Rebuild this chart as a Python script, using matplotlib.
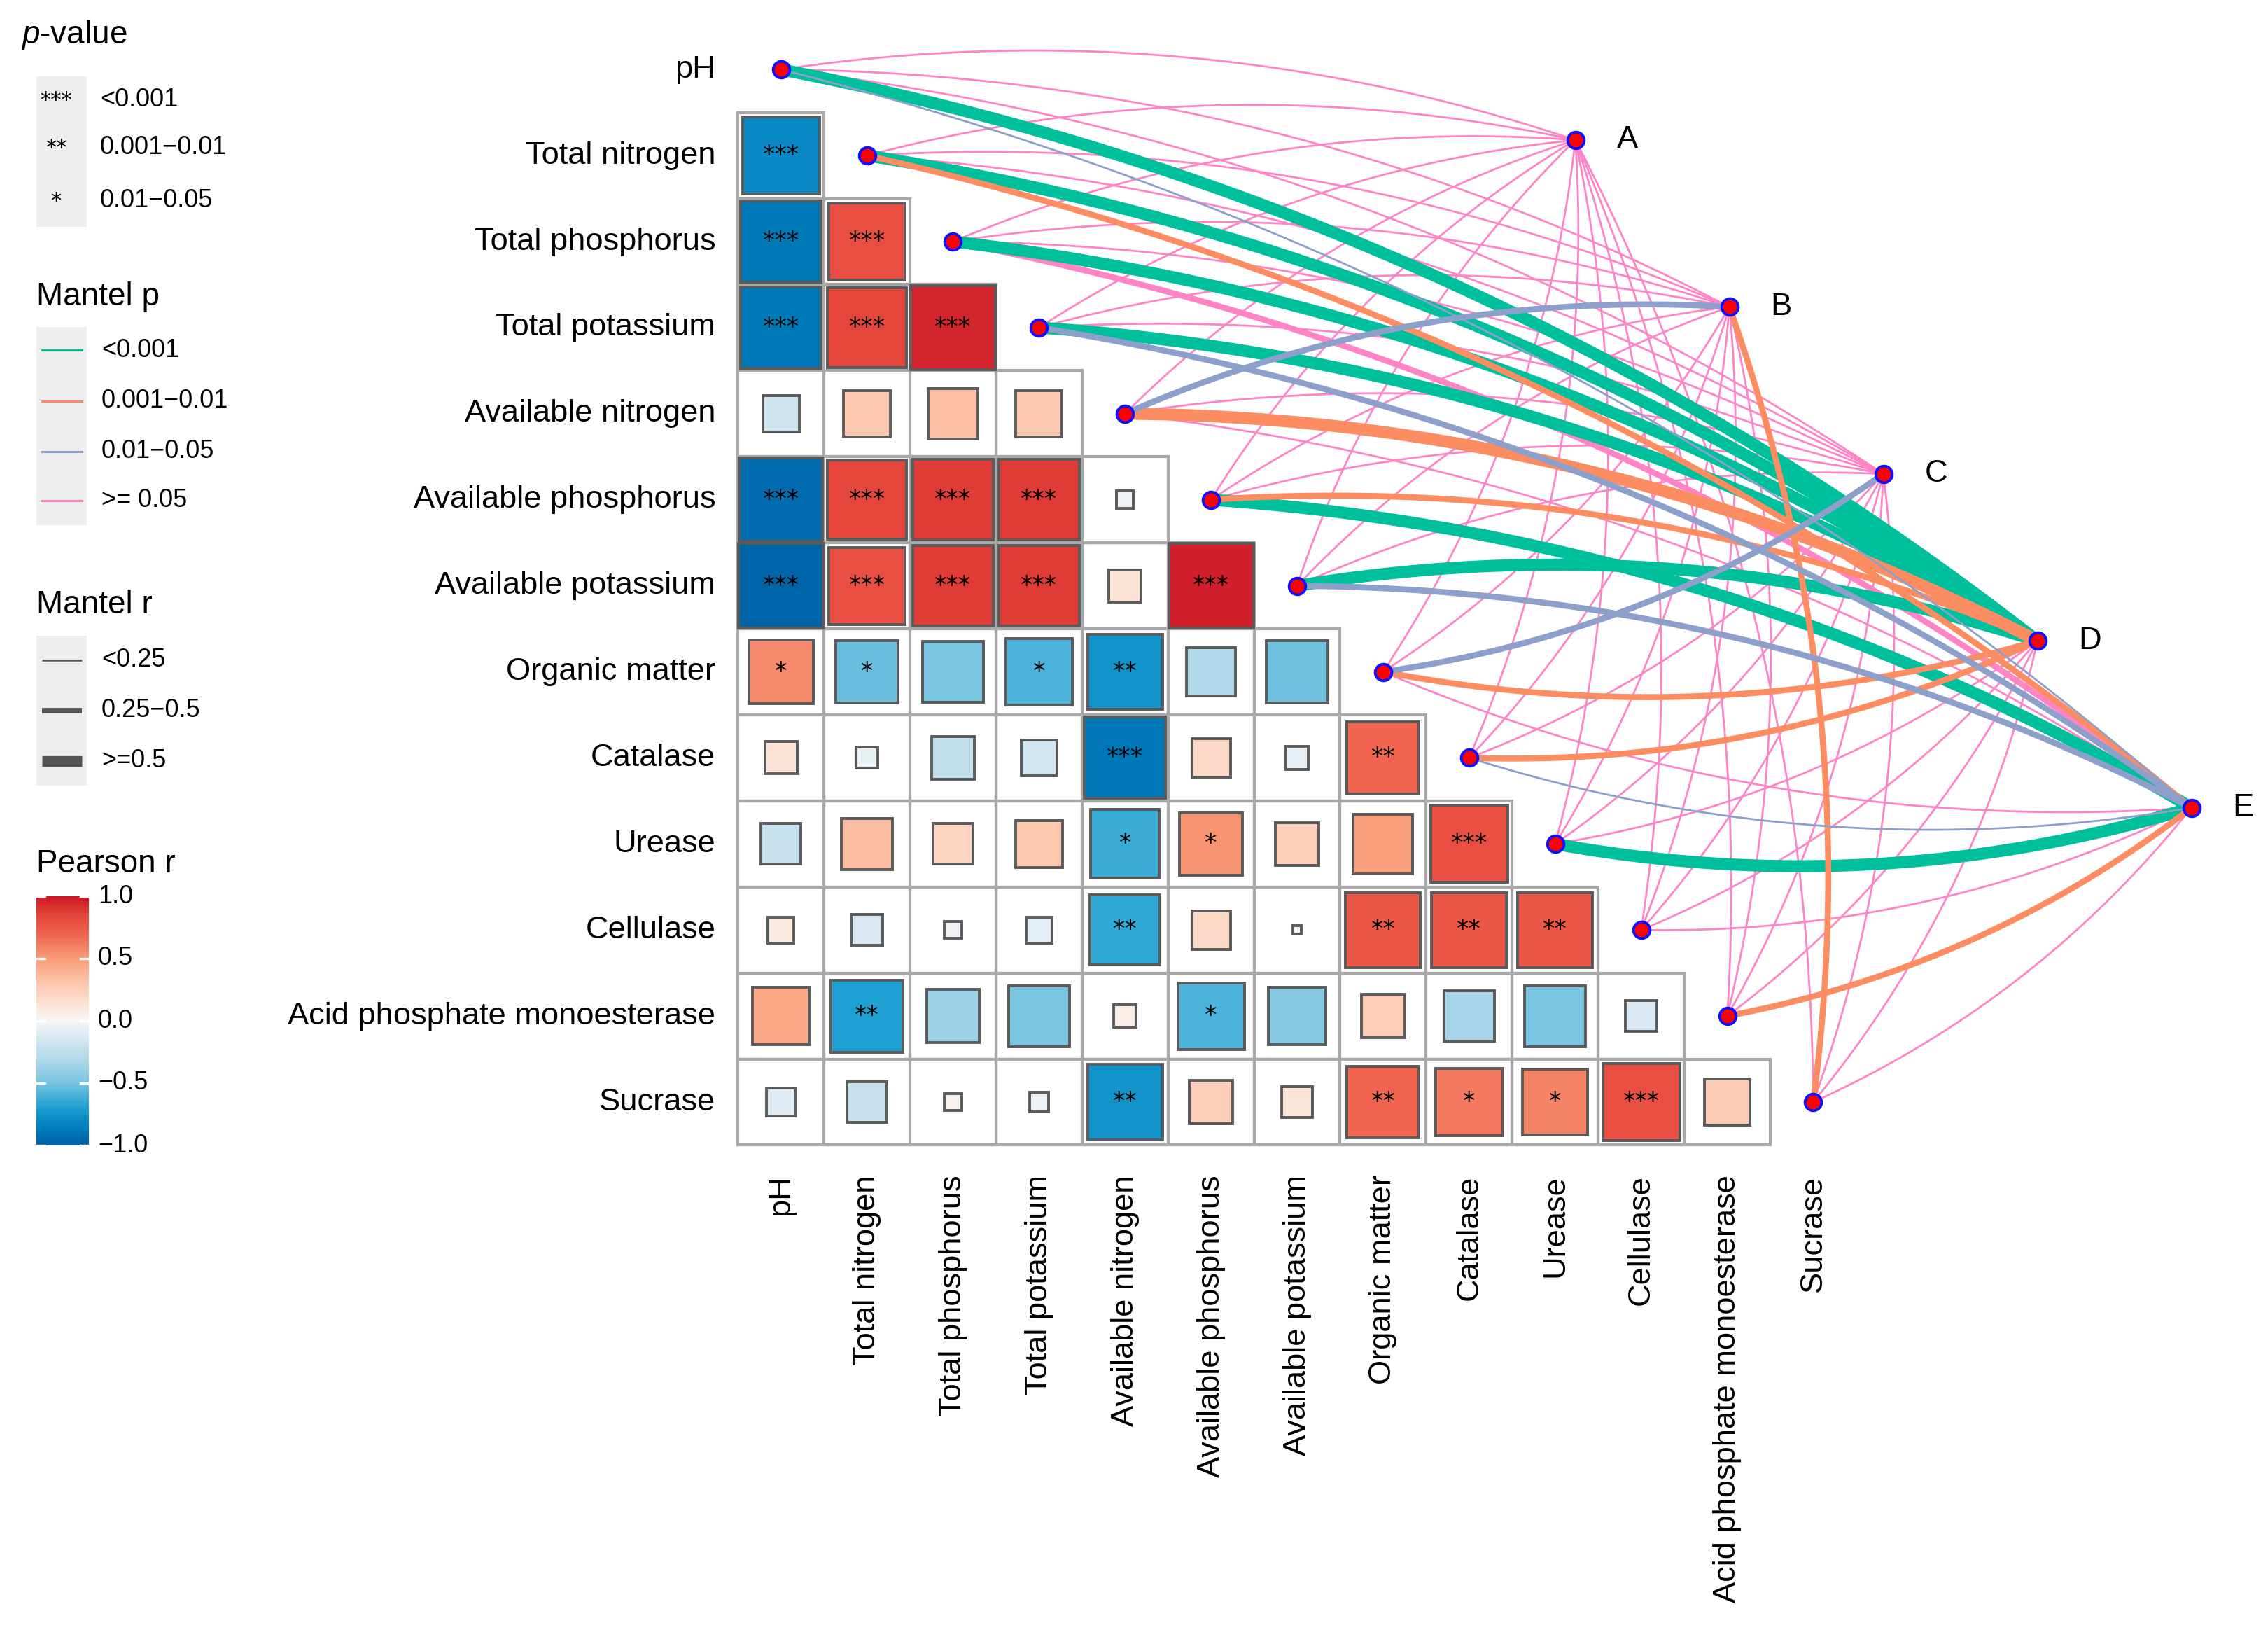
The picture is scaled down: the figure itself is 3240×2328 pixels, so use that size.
import numpy as np
import matplotlib.pyplot as plt
from matplotlib.colors import LinearSegmentedColormap, Normalize
from matplotlib.patches import Rectangle

plt.rcParams['font.family'] = ['Liberation Sans', 'DejaVu Sans']
plt.rcParams['mathtext.fontset'] = 'custom'
plt.rcParams['mathtext.rm'] = 'Liberation Sans'
plt.rcParams['mathtext.it'] = 'Liberation Sans:italic'

# ---- data ----
variables = ["pH", "Total nitrogen", "Total phosphorus", "Total potassium",
             "Available nitrogen", "Available phosphorus", "Available potassium",
             "Organic matter", "Catalase", "Urease", "Cellulase",
             "Acid phosphate monoesterase", "Sucrase"]

# lower triangle of the Pearson matrix, row i holds r with columns 0..i-1
pearson_r = [
    [],
    [-0.80],
    [-0.88, 0.80],
    [-0.88, 0.85, 0.96],
    [-0.18, 0.29, 0.34, 0.29],
    [-0.94, 0.85, 0.88, 0.88, -0.04],
    [-0.97, 0.80, 0.88, 0.88, 0.14, 0.97],
    [0.56, -0.53, -0.50, -0.60, -0.76, -0.32, -0.52],
    [0.14, -0.06, -0.25, -0.17, -0.89, 0.20, -0.07, 0.70],
    [-0.22, 0.35, 0.22, 0.30, -0.64, 0.53, 0.25, 0.48, 0.80],
    [0.09, -0.13, -0.04, -0.09, -0.66, 0.20, 0.01, 0.76, 0.76, 0.76],
    [0.44, -0.70, -0.38, -0.50, 0.07, -0.60, -0.44, 0.26, -0.34, -0.50, -0.13],
    [-0.11, -0.22, 0.04, -0.05, -0.76, 0.25, 0.13, 0.70, 0.61, 0.58, 0.80, 0.28],
]
pearson_sig = [
    [],
    ["***"],
    ["***", "***"],
    ["***", "***", "***"],
    ["", "", "", ""],
    ["***", "***", "***", "***", ""],
    ["***", "***", "***", "***", "", "***"],
    ["*", "*", "", "*", "**", "", ""],
    ["", "", "", "", "***", "", "", "**"],
    ["", "", "", "", "*", "*", "", "", "***"],
    ["", "", "", "", "**", "", "", "**", "**", "**"],
    ["", "**", "", "", "", "*", "", "", "", "", ""],
    ["", "", "", "", "**", "", "", "**", "*", "*", "***", ""],
]

envs = ["A", "B", "C", "D", "E"]
# Mantel p class: 0 <0.001, 1 0.001-0.01, 2 0.01-0.05, 3 >=0.05 (one list per env, over variables)
mantel_p = [
    [3, 3, 3, 3, 3, 3, 3, 3, 3, 3, 3, 3, 3],
    [3, 3, 3, 3, 2, 3, 3, 3, 3, 3, 3, 3, 1],
    [3, 3, 3, 3, 3, 3, 3, 2, 3, 3, 3, 3, 3],
    [0, 0, 0, 0, 1, 1, 0, 1, 1, 3, 3, 3, 3],
    [2, 1, 3, 2, 3, 0, 2, 3, 2, 0, 3, 1, 3],
]
# Mantel r class: 0 <0.25, 1 0.25-0.5, 2 >=0.5
mantel_r = [
    [0, 0, 0, 0, 0, 0, 0, 0, 0, 0, 0, 0, 0],
    [0, 0, 0, 0, 1, 0, 0, 0, 0, 0, 0, 0, 1],
    [0, 0, 0, 0, 0, 0, 0, 1, 0, 0, 0, 0, 0],
    [2, 2, 2, 2, 2, 1, 2, 1, 1, 0, 0, 0, 0],
    [0, 1, 1, 1, 0, 2, 1, 0, 0, 2, 0, 1, 0],
]

p_labels = ["<0.001", "0.001\u22120.01", "0.01\u22120.05", ">= 0.05"]
r_labels = ["<0.25", "0.25\u22120.5", ">=0.5"]
sig_labels = ["<0.001", "0.001\u22120.01", "0.01\u22120.05"]
cbar_ticks = [1.0, 0.5, 0.0, -0.5, -1.0]

# ---- styles ----
p_colors = ["#00BF9C", "#FC8D62", "#8DA0CB", "#FF84C6"]
r_widths = [1.0, 3.1, 6.2]
cmap = LinearSegmentedColormap.from_list("pearson", [
    (0.000, (0 / 255, 95 / 255, 165 / 255)),
    (0.075, (0 / 255, 128 / 255, 190 / 255)),
    (0.150, (30 / 255, 160 / 255, 210 / 255)),
    (0.250, (120 / 255, 196 / 255, 224 / 255)),
    (0.350, (180 / 255, 218 / 255, 235 / 255)),
    (0.450, (225 / 255, 236 / 255, 244 / 255)),
    (0.500, (247 / 255, 247 / 255, 247 / 255)),
    (0.550, (252 / 255, 232 / 255, 222 / 255)),
    (0.650, (252 / 255, 200 / 255, 175 / 255)),
    (0.750, (249 / 255, 155 / 255, 120 / 255)),
    (0.850, (240 / 255, 100 / 255, 80 / 255)),
    (0.925, (228 / 255, 70 / 255, 60 / 255)),
    (1.000, (205 / 255, 25 / 255, 40 / 255)),
])
norm = Normalize(-1, 1)

W, H = 3240, 2328
CELL = 122.9          # pixels per matrix cell
X0, Y0 = 1115.6, 99.2  # pixel position of the pH node
env_start = np.array([9.235, 0.82])
env_step = np.array([1.79, 1.94])

fig = plt.figure(figsize=(W / 200, H / 200), dpi=200)

# legend axes in pixel units
lax = fig.add_axes([0, 0, 1, 1])
lax.set_xlim(0, W)
lax.set_ylim(H, 0)
lax.axis("off")

ax = fig.add_axes([0, 0, 1, 1])
ax.set_xlim(-X0 / CELL, (W - X0) / CELL)
ax.set_ylim((H - Y0) / CELL, -Y0 / CELL)
ax.axis("off")
ax.patch.set_alpha(0)

n = len(variables)
label_fs = 16.3

# ---- correlation matrix ----
for i in range(1, n):
    for j in range(i):
        ax.add_patch(Rectangle((j - 0.5, i - 0.5), 1, 1, fill=False,
                               edgecolor="#A8A8A8", lw=1.5, zorder=1))
        r = pearson_r[i][j]
        s = np.sqrt(abs(r))
        ax.add_patch(Rectangle((j - s / 2, i - s / 2), s, s,
                               facecolor=cmap(norm(r)), edgecolor="#5A5A5A",
                               lw=1.4, zorder=2))
        if pearson_sig[i][j]:
            ax.text(j, i, pearson_sig[i][j], ha="center", va="center",
                    fontsize=12.5, family="DejaVu Sans", zorder=3)

for i, name in enumerate(variables):
    ax.text(-0.76, i, name, ha="right", va="center", fontsize=label_fs)
    ax.text(i, 12.85, name, ha="center", va="top", rotation=90, fontsize=label_fs)

# ---- mantel links ----
def curve_points(p0, p1, left, k=0.12, num=80):
    d = p1 - p0
    perp = np.array([d[1], -d[0]]) if left else np.array([-d[1], d[0]])
    c = (p0 + p1) / 2 + k * perp
    t = np.linspace(0, 1, num)[:, None]
    return (1 - t) ** 2 * p0 + 2 * (1 - t) * t * c + t ** 2 * p1

env_pos = [env_start + k * env_step for k in range(len(envs))]
draw_order = [3, 0, 1, 2]
for rank, pc in enumerate(draw_order):
    for e in range(len(envs)):
        for v in range(n):
            if mantel_p[e][v] != pc:
                continue
            p0 = np.array([v, v], dtype=float)
            pts = curve_points(p0, env_pos[e], left=(v <= 6))
            ax.plot(pts[:, 0], pts[:, 1], color=p_colors[pc],
                    lw=r_widths[mantel_r[e][v]], solid_capstyle="butt",
                    zorder=4 + rank)

node_kw = dict(marker="o", ms=8.5, mfc="#FF0000", mec="#1010FF", mew=1.4,
               ls="none", zorder=10)
ax.plot(range(n), range(n), **node_kw)
for e, name in enumerate(envs):
    ax.plot(env_pos[e][0], env_pos[e][1], **node_kw)
    ax.text(env_pos[e][0] + 0.48, env_pos[e][1], name, ha="left", va="center",
            fontsize=label_fs)

# ---- legends ----
key_bg = "#EDEDED"
lab_fs = 13
title_fs = 16.5

lax.text(30, 50, r"$\mathit{p}$-value", ha="left", va="center", fontsize=title_fs)
lax.add_patch(Rectangle((52, 109), 72, 215, color=key_bg, lw=0))
for y, star, lab in zip([143, 211, 287], ["***", "**", "*"], sig_labels):
    lax.text(80, y, star, ha="center", va="center", fontsize=11, family="DejaVu Sans")
    lax.text(143, y, lab, ha="left", va="center", fontsize=lab_fs)

lax.text(52, 424, "Mantel p", ha="left", va="center", fontsize=title_fs)
lax.add_patch(Rectangle((52, 467), 72, 283, color=key_bg, lw=0))
for y, col, lab in zip([500, 573, 645, 715], p_colors, p_labels):
    lax.plot([60, 117], [y, y], color=col, lw=1.1)
    lax.text(145, y, lab, ha="left", va="center", fontsize=lab_fs)

lax.text(52, 864, "Mantel r", ha="left", va="center", fontsize=title_fs)
lax.add_patch(Rectangle((52, 908), 72, 214, color=key_bg, lw=0))
for y, w, lab in zip([943, 1015, 1087], [0.9, 2.8, 5.5], r_labels):
    lax.plot([60, 117], [y, y], color="#555555", lw=w, solid_capstyle="butt")
    lax.text(145, y, lab, ha="left", va="center", fontsize=lab_fs)

lax.text(52, 1234, "Pearson r", ha="left", va="center", fontsize=title_fs)
grad = np.linspace(1, -1, 256)[:, None]
cb_top, cb_bot = 1280, 1636
lax.imshow(grad, cmap=cmap, norm=norm, aspect="auto",
           extent=[52, 127, cb_bot, cb_top], zorder=2)
for t in cbar_ticks:
    y = cb_top + (1 - t) / 2 * (cb_bot - cb_top)
    lax.plot([52, 64], [y, y], color="white", lw=1.2, zorder=3)
    lax.plot([115, 127], [y, y], color="white", lw=1.2, zorder=3)
    lax.text(140, y, f"{t:.1f}".replace("-", "\u2212"), ha="left", va="center",
             fontsize=lab_fs)

fig.savefig("out.png", dpi=200, facecolor="white")
